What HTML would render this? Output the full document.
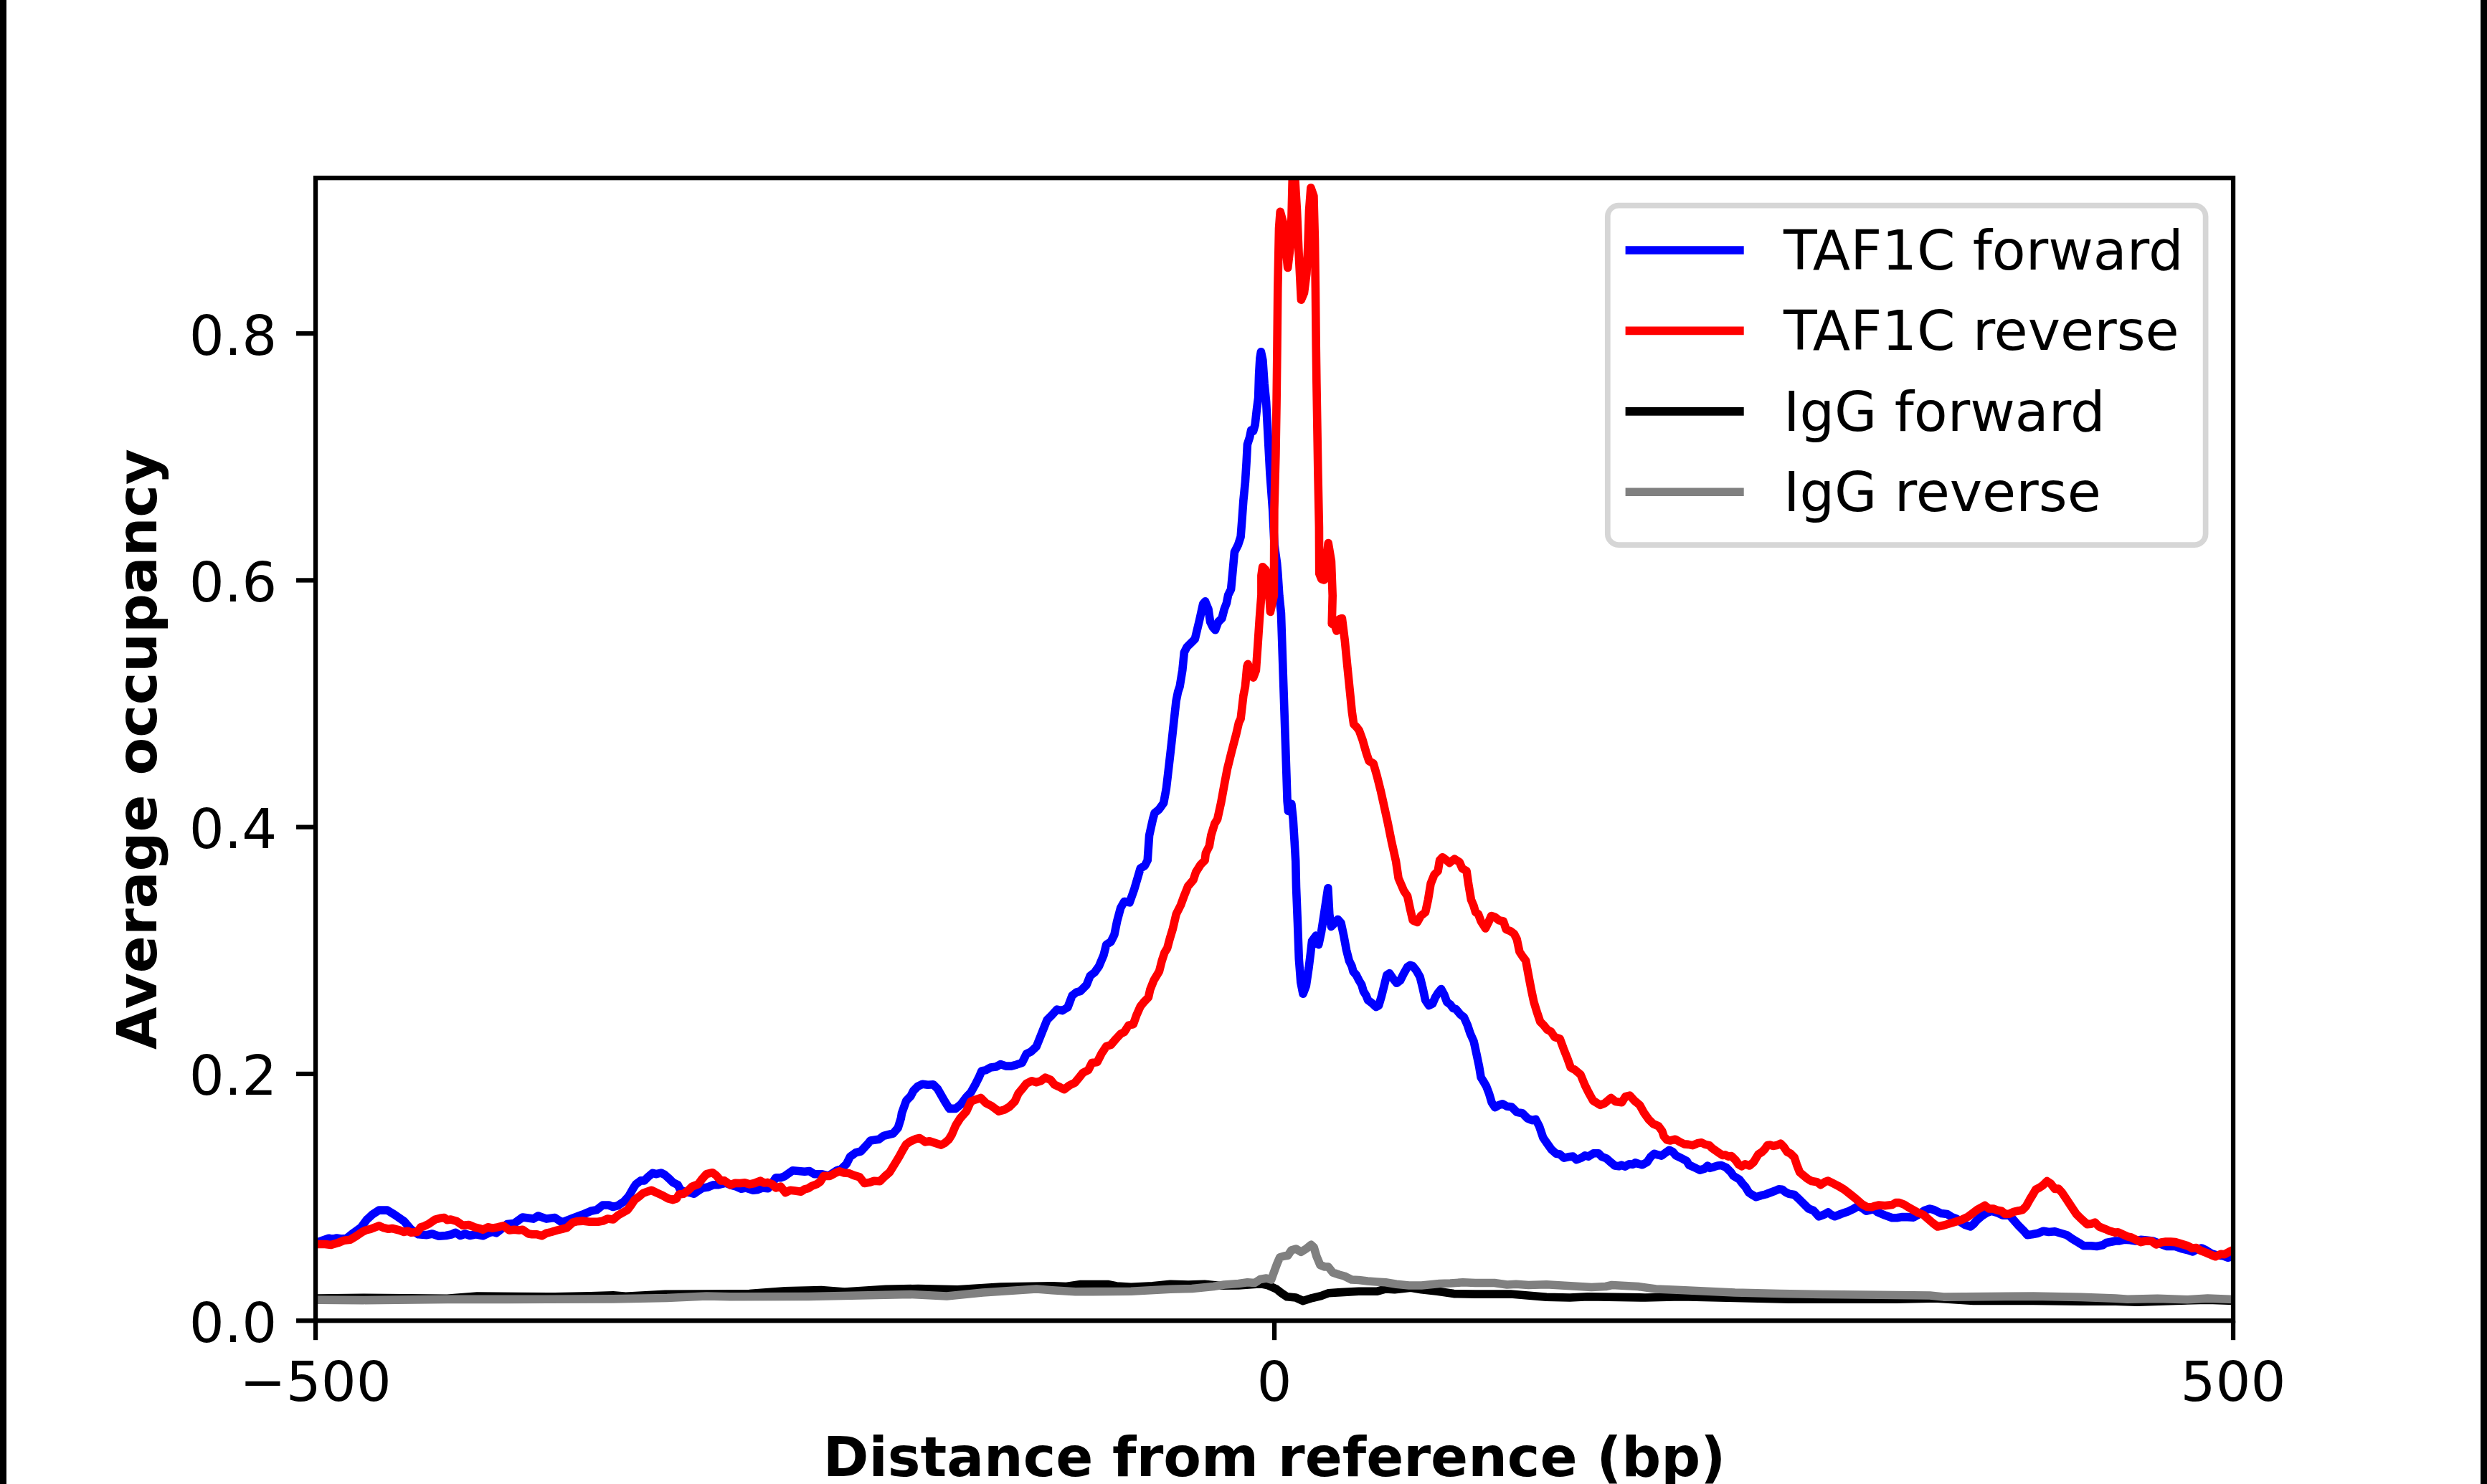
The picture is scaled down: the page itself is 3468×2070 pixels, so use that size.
<!DOCTYPE html>
<html><head><meta charset="utf-8"><title>Average occupancy</title>
<style>
html,body{margin:0;padding:0;background:#fff;}
body{width:3468px;height:2070px;overflow:hidden;}
svg{display:block;position:absolute;left:0;top:0;}
text{font-family:"DejaVu Sans","Liberation Sans",sans-serif;font-size:77px;fill:#000;}
.b{font-weight:bold;font-size:76.8px;}
</style></head><body>
<svg width="3468" height="2070" viewBox="0 0 3468 2070">
<rect x="0" y="0" width="3468" height="2070" fill="#fff"/>
<rect x="0" y="0" width="9" height="2070" fill="#000"/>
<rect x="3459" y="0" width="9" height="2070" fill="#000"/>
<defs><clipPath id="ax"><rect x="440.05" y="248.20" width="2674.00" height="1594.00"/></clipPath></defs>

<g clip-path="url(#ax)" fill="none" stroke-width="11.6" stroke-linejoin="round" stroke-linecap="square">
<path stroke="#0000ff" d="M440.0 1732.7 L443.3 1732.7 L450.0 1730.2 L458.5 1727.2 L463.5 1728.3 L469.5 1727.0 L476.0 1728.0 L482.9 1727.5 L489.6 1722.3 L503.4 1712.2 L511.2 1701.6 L519.6 1693.8 L528.4 1688.1 L540.1 1688.1 L550.1 1694.3 L563.5 1703.5 L573.5 1715.2 L583.5 1721.8 L595.2 1722.7 L602.7 1721.0 L611.9 1724.3 L621.9 1723.5 L630.2 1721.8 L635.2 1719.3 L641.9 1723.5 L648.6 1721.0 L655.3 1723.5 L663.6 1721.8 L673.6 1723.8 L681.9 1719.8 L687.0 1718.2 L692.0 1719.8 L700.3 1713.5 L707.0 1707.6 L717.0 1706.5 L728.7 1698.0 L743.7 1700.1 L750.4 1696.0 L762.0 1700.1 L773.7 1698.5 L783.7 1705.1 L788.7 1703.1 L798.8 1699.3 L812.1 1694.3 L823.8 1689.3 L832.1 1687.6 L840.5 1681.0 L848.8 1681.0 L855.0 1683.5 L861.7 1681.6 L870.0 1676.1 L876.7 1668.6 L883.4 1656.9 L886.7 1651.9 L893.4 1646.9 L898.4 1646.9 L903.4 1641.9 L910.1 1636.3 L915.1 1637.7 L921.8 1636.0 L926.8 1638.5 L933.4 1644.4 L938.4 1649.4 L945.1 1652.7 L948.5 1659.4 L955.1 1662.7 L961.8 1663.5 L967.6 1665.2 L973.5 1661.0 L980.2 1656.9 L986.8 1656.0 L995.2 1652.7 L1001.8 1652.7 L1011.9 1650.2 L1020.2 1653.5 L1026.9 1655.2 L1033.6 1658.2 L1040.2 1656.9 L1050.2 1660.2 L1056.9 1659.4 L1063.6 1656.9 L1071.1 1657.7 L1076.9 1650.2 L1081.9 1642.7 L1088.6 1642.7 L1093.6 1641.0 L1105.3 1632.7 L1113.6 1633.5 L1122.0 1634.3 L1128.7 1633.5 L1135.3 1637.7 L1145.4 1637.7 L1155.4 1640.2 L1162.0 1636.0 L1167.0 1632.7 L1173.7 1630.2 L1180.4 1623.5 L1185.4 1613.5 L1193.7 1607.6 L1200.4 1606.0 L1210.4 1595.1 L1213.8 1591.0 L1225.4 1589.3 L1232.1 1584.3 L1245.5 1581.0 L1252.1 1573.4 L1256.3 1560.1 L1257.5 1552.7 L1263.8 1535.2 L1270.0 1528.9 L1273.8 1521.4 L1280.0 1515.2 L1286.3 1512.2 L1293.8 1513.2 L1301.3 1512.7 L1307.5 1518.9 L1312.5 1527.7 L1317.5 1536.4 L1323.8 1546.4 L1332.5 1546.4 L1340.1 1540.2 L1347.6 1530.2 L1353.8 1523.9 L1360.1 1512.7 L1365.1 1502.7 L1368.8 1493.9 L1375.1 1492.6 L1381.3 1488.9 L1388.8 1488.1 L1395.1 1484.6 L1402.6 1487.1 L1410.1 1487.1 L1417.6 1485.1 L1425.1 1482.6 L1431.3 1470.1 L1437.6 1467.1 L1445.1 1460.1 L1452.6 1441.4 L1460.1 1422.6 L1466.4 1416.4 L1473.9 1408.1 L1481.4 1409.6 L1488.9 1405.1 L1495.1 1388.8 L1501.4 1383.8 L1506.4 1382.6 L1515.1 1373.8 L1520.1 1361.3 L1526.4 1356.3 L1532.6 1347.6 L1538.9 1332.6 L1542.7 1317.6 L1548.9 1313.8 L1553.9 1303.8 L1557.7 1285.0 L1562.7 1266.3 L1567.7 1257.5 L1575.2 1258.8 L1581.4 1241.3 L1590.2 1211.3 L1596.4 1207.5 L1600.2 1200.0 L1602.6 1165.2 L1607.6 1142.7 L1610.1 1133.9 L1616.3 1128.9 L1622.6 1120.1 L1626.3 1100.1 L1630.1 1067.6 L1633.8 1035.1 L1637.6 1000.1 L1640.1 977.6 L1642.6 965.1 L1645.1 957.6 L1648.8 935.1 L1651.3 910.0 L1655.1 902.5 L1661.3 896.3 L1666.3 891.3 L1672.6 865.0 L1677.6 842.5 L1680.6 838.8 L1685.1 850.0 L1687.6 867.5 L1691.3 875.0 L1694.6 878.8 L1698.8 867.5 L1703.9 862.5 L1707.1 850.0 L1710.4 841.3 L1712.6 830.0 L1716.6 821.9 L1718.9 797.7 L1721.4 770.2 L1726.4 760.2 L1730.1 748.9 L1732.1 722.6 L1733.9 697.6 L1736.4 672.6 L1738.1 645.1 L1739.4 620.1 L1742.6 610.1 L1744.6 600.1 L1747.6 601.3 L1750.1 592.6 L1752.6 570.1 L1754.6 555.0 L1755.6 522.5 L1756.9 500.0 L1758.4 490.8 L1760.9 502.5 L1763.1 535.0 L1765.6 560.1 L1766.9 585.1 L1768.9 622.6 L1770.9 660.1 L1774.6 710.1 L1777.1 760.2 L1780.6 785.2 L1781.9 800.2 L1783.9 830.9 L1786.4 855.0 L1788.9 930.1 L1791.4 1005.1 L1793.9 1080.1 L1795.1 1117.6 L1796.4 1131.4 L1800.9 1121.4 L1803.2 1142.7 L1805.2 1175.2 L1806.7 1200.9 L1807.5 1237.5 L1809.5 1287.5 L1811.3 1337.6 L1813.8 1370.1 L1817.0 1386.3 L1821.3 1375.1 L1825.0 1350.1 L1827.5 1330.1 L1829.5 1312.6 L1835.0 1305.1 L1838.8 1317.6 L1842.5 1300.1 L1847.5 1267.5 L1851.8 1238.8 L1853.8 1275.0 L1856.3 1292.5 L1861.3 1287.5 L1865.5 1282.5 L1870.0 1287.5 L1873.8 1305.1 L1877.5 1325.1 L1881.3 1340.1 L1885.0 1347.6 L1887.0 1355.1 L1891.3 1360.1 L1895.1 1367.6 L1898.8 1373.8 L1901.3 1382.6 L1905.1 1388.8 L1907.6 1395.1 L1912.6 1398.8 L1918.8 1404.6 L1922.6 1402.6 L1926.3 1390.1 L1930.1 1375.1 L1933.8 1360.1 L1937.6 1357.6 L1942.6 1365.1 L1947.6 1371.3 L1952.6 1367.6 L1957.6 1357.6 L1962.6 1348.8 L1966.3 1346.3 L1970.1 1347.6 L1975.1 1353.8 L1980.1 1362.6 L1983.8 1377.6 L1987.6 1395.1 L1992.6 1402.6 L1997.6 1400.1 L2001.4 1391.3 L2005.1 1385.1 L2009.6 1379.6 L2013.9 1387.6 L2017.6 1397.6 L2022.6 1401.4 L2026.4 1406.4 L2030.1 1407.6 L2036.4 1415.1 L2041.4 1418.9 L2046.4 1430.1 L2050.1 1441.4 L2055.1 1452.6 L2058.9 1470.1 L2062.6 1487.6 L2065.1 1502.7 L2068.9 1508.9 L2072.6 1515.2 L2076.4 1525.2 L2080.1 1537.7 L2084.6 1544.7 L2090.2 1541.4 L2095.2 1539.7 L2101.4 1543.2 L2107.7 1543.9 L2115.2 1551.4 L2122.7 1552.7 L2130.2 1560.2 L2136.4 1562.7 L2141.4 1561.4 L2146.4 1570.9 L2151.7 1586.7 L2157.5 1595.1 L2163.4 1603.4 L2170.0 1609.3 L2175.1 1610.1 L2180.9 1615.1 L2186.7 1613.8 L2193.4 1613.1 L2198.4 1617.6 L2205.1 1615.1 L2210.1 1611.8 L2215.1 1613.1 L2221.8 1608.8 L2229.3 1608.8 L2233.5 1613.4 L2240.1 1615.9 L2246.8 1621.8 L2251.8 1626.0 L2257.6 1626.8 L2261.0 1625.1 L2266.0 1627.1 L2271.8 1623.8 L2276.8 1624.3 L2280.2 1621.8 L2285.2 1623.5 L2290.2 1624.8 L2296.9 1621.0 L2301.9 1613.4 L2306.9 1609.3 L2311.9 1610.9 L2316.9 1612.1 L2321.9 1608.4 L2327.7 1604.3 L2332.7 1606.8 L2336.9 1611.8 L2345.3 1615.9 L2351.9 1619.3 L2355.3 1625.1 L2361.1 1627.6 L2370.3 1632.1 L2377.0 1630.1 L2381.1 1626.0 L2384.5 1629.3 L2390.3 1627.6 L2395.3 1626.0 L2400.3 1625.5 L2407.0 1628.5 L2413.7 1635.1 L2417.0 1640.1 L2425.3 1645.1 L2430.4 1651.8 L2433.7 1655.2 L2438.7 1663.5 L2443.7 1666.8 L2448.7 1669.8 L2455.4 1667.7 L2462.1 1666.0 L2468.7 1663.5 L2475.4 1661.0 L2480.4 1658.8 L2485.4 1659.3 L2489.6 1662.7 L2494.6 1665.2 L2502.1 1666.5 L2508.8 1672.7 L2515.4 1679.4 L2522.1 1686.0 L2528.8 1688.5 L2536.3 1696.9 L2545.0 1693.5 L2549.2 1691.0 L2553.4 1694.3 L2558.4 1696.8 L2566.7 1693.5 L2576.7 1690.1 L2585.1 1686.0 L2591.7 1681.8 L2596.7 1685.1 L2602.6 1689.3 L2608.4 1687.6 L2613.4 1686.8 L2618.4 1691.0 L2628.4 1695.1 L2638.5 1698.8 L2645.1 1698.8 L2651.8 1697.6 L2660.1 1697.6 L2668.5 1698.1 L2673.5 1695.1 L2678.5 1691.8 L2683.5 1688.5 L2691.0 1686.0 L2696.9 1687.6 L2706.9 1692.6 L2715.2 1693.5 L2721.9 1697.6 L2728.6 1700.1 L2733.6 1704.3 L2740.2 1708.5 L2747.7 1711.0 L2751.9 1707.6 L2756.9 1701.8 L2763.6 1696.0 L2770.3 1691.8 L2776.9 1689.3 L2785.3 1691.8 L2792.8 1695.1 L2802.0 1695.1 L2808.7 1702.6 L2815.3 1710.2 L2822.0 1716.8 L2827.0 1722.7 L2833.7 1721.8 L2842.0 1720.2 L2849.5 1717.2 L2857.0 1718.5 L2865.4 1717.7 L2873.7 1720.2 L2882.1 1722.7 L2890.4 1728.5 L2898.8 1733.5 L2905.4 1737.7 L2915.4 1737.7 L2923.8 1738.5 L2932.1 1736.8 L2937.1 1733.5 L2943.8 1732.2 L2950.0 1731.0 L2955.1 1731.0 L2961.7 1729.3 L2970.1 1729.8 L2978.4 1731.0 L2985.1 1729.3 L2993.4 1730.1 L3001.8 1731.0 L3008.5 1733.5 L3015.1 1736.0 L3021.8 1738.5 L3031.8 1738.1 L3041.8 1741.5 L3050.2 1743.5 L3057.7 1746.0 L3063.5 1742.6 L3070.2 1741.0 L3076.9 1744.3 L3083.5 1748.5 L3091.9 1751.0 L3100.2 1751.8 L3106.9 1754.3 L3114.1 1751.8"/>
<path stroke="#ff0000" d="M440.0 1735.5 L443.3 1735.5 L453.3 1735.5 L461.7 1736.5 L471.7 1733.5 L480.0 1730.2 L488.4 1729.3 L496.7 1724.3 L505.1 1718.5 L510.1 1716.0 L516.8 1714.3 L528.4 1709.8 L535.1 1712.7 L541.8 1714.3 L546.8 1713.5 L556.8 1716.0 L563.5 1718.5 L568.5 1717.2 L573.5 1719.3 L581.8 1718.5 L586.8 1711.8 L591.8 1710.2 L598.5 1706.8 L606.9 1701.0 L613.5 1699.3 L619.4 1698.5 L623.5 1701.8 L628.6 1701.0 L636.9 1703.5 L645.2 1709.3 L653.6 1708.5 L661.9 1711.8 L668.6 1713.5 L673.6 1715.2 L680.3 1711.8 L687.0 1713.2 L693.6 1711.8 L702.0 1709.8 L710.3 1716.0 L717.0 1715.2 L723.7 1716.0 L728.7 1715.2 L737.0 1721.0 L742.0 1721.8 L748.7 1721.8 L755.4 1723.8 L762.0 1720.2 L768.7 1718.5 L777.1 1716.0 L783.7 1714.3 L790.4 1712.7 L798.8 1705.1 L803.8 1703.8 L812.1 1703.1 L822.1 1704.3 L833.8 1704.3 L840.5 1703.1 L847.1 1700.1 L855.0 1701.0 L861.7 1695.3 L875.0 1687.7 L880.0 1681.1 L885.0 1673.6 L891.7 1668.6 L896.7 1664.4 L903.4 1661.9 L908.4 1660.2 L915.1 1663.5 L923.4 1667.2 L931.8 1671.9 L938.4 1673.6 L943.4 1671.9 L946.8 1666.1 L953.5 1665.2 L960.1 1660.2 L965.1 1655.2 L973.5 1651.9 L978.5 1645.2 L985.2 1637.7 L993.5 1635.7 L998.5 1639.4 L1005.2 1646.9 L1010.2 1646.9 L1018.5 1652.7 L1025.2 1650.2 L1031.9 1650.5 L1038.6 1649.9 L1045.2 1651.9 L1051.9 1650.5 L1060.3 1647.2 L1065.3 1649.9 L1070.3 1649.4 L1076.9 1651.9 L1081.9 1656.9 L1088.6 1655.2 L1095.3 1663.5 L1102.0 1660.2 L1108.6 1661.0 L1117.0 1662.2 L1122.0 1658.9 L1127.0 1657.7 L1132.0 1654.4 L1138.7 1651.9 L1143.7 1648.5 L1148.7 1640.2 L1157.0 1640.5 L1163.7 1636.8 L1170.4 1633.8 L1177.1 1636.0 L1183.7 1636.5 L1190.4 1639.4 L1198.7 1641.9 L1205.4 1650.5 L1212.1 1649.4 L1218.8 1647.2 L1227.1 1647.7 L1233.8 1641.0 L1240.5 1635.2 L1248.8 1621.8 L1253.8 1613.5 L1258.8 1604.3 L1263.6 1596.2 L1269.4 1592.1 L1276.9 1588.7 L1282.4 1587.5 L1290.3 1592.9 L1296.2 1591.7 L1303.7 1594.2 L1312.1 1597.1 L1317.1 1594.6 L1322.9 1589.6 L1327.1 1582.9 L1332.5 1570.2 L1338.8 1560.2 L1347.6 1550.2 L1353.8 1536.4 L1360.1 1533.9 L1367.6 1531.4 L1375.1 1538.9 L1382.6 1542.7 L1392.6 1550.2 L1400.1 1548.2 L1407.6 1543.9 L1415.1 1536.4 L1420.1 1525.2 L1426.3 1517.7 L1431.3 1511.4 L1438.8 1507.7 L1445.1 1509.7 L1451.4 1507.7 L1457.6 1503.2 L1465.1 1506.4 L1470.1 1512.7 L1476.4 1515.7 L1483.9 1519.7 L1491.4 1513.9 L1498.9 1510.2 L1505.1 1502.7 L1510.1 1496.4 L1517.6 1492.6 L1522.6 1482.6 L1530.1 1481.4 L1536.4 1468.9 L1542.7 1459.6 L1548.9 1457.6 L1556.4 1448.9 L1562.7 1442.1 L1567.7 1439.6 L1573.9 1430.1 L1580.2 1428.9 L1585.2 1415.1 L1590.2 1403.9 L1595.2 1397.6 L1601.4 1391.3 L1603.9 1380.1 L1608.9 1367.6 L1616.4 1355.1 L1620.2 1340.1 L1623.9 1328.8 L1627.7 1322.6 L1631.4 1308.8 L1635.2 1296.3 L1640.2 1275.0 L1646.5 1262.5 L1651.5 1248.8 L1656.5 1236.3 L1664.0 1227.5 L1667.7 1216.3 L1674.0 1206.3 L1680.2 1200.0 L1681.3 1190.2 L1686.3 1180.2 L1688.8 1165.2 L1693.8 1148.9 L1697.6 1142.7 L1702.6 1120.1 L1707.6 1092.6 L1711.4 1072.6 L1717.6 1047.6 L1723.9 1023.8 L1727.6 1007.6 L1730.1 1002.6 L1733.9 970.1 L1736.4 957.6 L1738.9 930.1 L1740.1 926.3 L1743.9 937.6 L1747.6 945.1 L1751.4 935.1 L1753.9 900.0 L1756.4 862.5 L1758.9 830.0 L1758.9 802.7 L1760.6 790.7 L1765.1 795.2 L1768.9 815.2 L1771.4 853.4 L1776.4 830.9 L1776.9 710.1 L1778.9 635.1 L1780.1 560.1 L1781.0 482.0 L1781.8 401.9 L1783.5 318.4 L1785.2 295.4 L1789.3 310.1 L1792.7 343.5 L1795.7 373.5 L1799.3 343.5 L1801.0 301.7 L1802.2 251.7 L1803.5 218.3 L1806.0 251.7 L1808.5 293.4 L1811.0 351.8 L1814.4 418.2 L1818.5 408.5 L1821.9 381.8 L1823.9 343.5 L1825.5 293.4 L1827.9 262.0 L1831.9 273.4 L1833.5 335.1 L1834.4 401.9 L1835.2 482.0 L1835.9 535.0 L1837.9 660.1 L1839.4 735.1 L1839.7 800.2 L1842.7 807.7 L1846.4 808.9 L1852.2 757.6 L1856.4 782.7 L1858.2 830.9 L1857.2 870.0 L1861.4 872.5 L1863.9 880.0 L1867.7 863.8 L1871.4 862.5 L1875.2 892.5 L1878.9 930.1 L1882.7 967.6 L1885.2 992.6 L1887.7 1010.1 L1891.4 1013.8 L1895.2 1018.8 L1900.2 1032.6 L1905.2 1050.1 L1909.0 1061.4 L1915.2 1065.1 L1920.2 1082.6 L1925.2 1102.6 L1930.2 1125.1 L1935.2 1147.7 L1940.2 1172.7 L1946.5 1200.9 L1950.1 1225.0 L1957.6 1242.5 L1962.6 1250.0 L1966.3 1267.5 L1970.1 1283.8 L1976.3 1286.3 L1981.3 1277.5 L1987.6 1272.5 L1991.4 1255.0 L1995.1 1232.5 L2000.1 1220.0 L2005.1 1215.0 L2007.6 1200.0 L2011.5 1195.7 L2015.8 1198.9 L2021.3 1203.7 L2024.8 1200.7 L2028.3 1198.2 L2035.3 1202.7 L2038.9 1211.3 L2045.1 1215.0 L2047.6 1232.5 L2051.4 1255.0 L2055.1 1263.8 L2057.6 1272.5 L2061.4 1275.0 L2065.1 1285.0 L2071.4 1295.0 L2075.1 1287.5 L2079.6 1277.5 L2085.1 1279.5 L2090.2 1283.8 L2096.4 1285.0 L2100.2 1296.3 L2106.4 1298.8 L2111.4 1302.6 L2115.2 1310.1 L2118.9 1327.6 L2123.9 1335.1 L2127.7 1340.1 L2131.4 1360.1 L2135.2 1380.1 L2138.9 1397.6 L2142.7 1410.1 L2147.7 1425.1 L2152.7 1430.1 L2157.7 1436.4 L2162.7 1438.9 L2167.7 1446.4 L2175.2 1448.9 L2180.2 1462.6 L2185.2 1475.1 L2190.2 1488.9 L2196.5 1492.6 L2204.0 1498.9 L2210.2 1513.9 L2215.2 1523.9 L2221.5 1535.2 L2231.5 1541.4 L2237.7 1538.9 L2246.5 1531.4 L2252.7 1536.4 L2261.5 1537.7 L2266.5 1529.7 L2272.7 1528.2 L2279.0 1535.2 L2286.5 1541.4 L2292.8 1552.7 L2299.0 1561.4 L2305.3 1567.7 L2312.8 1570.9 L2317.7 1577.6 L2320.2 1585.1 L2324.4 1590.1 L2329.4 1590.9 L2336.1 1589.2 L2341.9 1592.6 L2348.6 1595.9 L2354.4 1596.4 L2360.3 1597.6 L2366.9 1594.8 L2372.8 1593.8 L2377.8 1596.4 L2383.6 1597.6 L2387.8 1601.8 L2396.1 1607.6 L2402.0 1611.4 L2405.3 1610.9 L2410.3 1613.1 L2414.5 1612.6 L2420.3 1618.4 L2424.5 1624.3 L2428.7 1626.8 L2433.7 1623.8 L2439.5 1626.0 L2445.4 1621.0 L2452.0 1610.1 L2457.0 1606.8 L2461.2 1602.6 L2464.6 1597.6 L2468.7 1597.1 L2472.1 1598.4 L2477.9 1597.6 L2482.9 1595.1 L2487.1 1599.3 L2492.1 1606.8 L2497.1 1609.3 L2502.1 1614.3 L2505.4 1624.3 L2509.6 1635.1 L2515.4 1640.1 L2520.5 1644.3 L2526.3 1647.6 L2533.8 1648.8 L2538.8 1652.7 L2545.0 1648.5 L2549.2 1647.1 L2556.7 1650.9 L2563.4 1654.3 L2571.7 1659.3 L2580.1 1665.9 L2588.4 1672.6 L2596.7 1679.8 L2603.4 1683.5 L2610.1 1683.8 L2615.1 1682.1 L2620.1 1681.0 L2628.4 1681.8 L2638.5 1680.6 L2643.5 1677.6 L2648.5 1677.6 L2655.1 1680.1 L2661.8 1684.3 L2668.5 1688.1 L2675.2 1691.8 L2681.8 1694.3 L2688.5 1700.1 L2695.2 1706.0 L2701.9 1711.0 L2710.2 1709.3 L2718.5 1706.8 L2726.9 1704.3 L2735.2 1701.5 L2743.6 1697.6 L2750.3 1692.6 L2756.9 1687.6 L2762.8 1684.3 L2767.8 1681.5 L2773.6 1686.0 L2779.5 1686.0 L2785.3 1688.1 L2791.1 1689.3 L2796.1 1693.5 L2802.0 1693.1 L2808.7 1690.1 L2815.3 1688.8 L2820.3 1687.6 L2825.3 1682.6 L2830.3 1673.4 L2835.4 1665.1 L2838.7 1659.3 L2843.7 1656.8 L2848.7 1653.4 L2854.5 1647.6 L2859.5 1650.9 L2865.4 1658.4 L2870.4 1658.1 L2875.4 1663.4 L2882.1 1673.4 L2888.7 1683.5 L2895.4 1693.5 L2902.1 1700.1 L2910.4 1707.6 L2916.3 1707.1 L2921.3 1705.1 L2927.1 1711.0 L2935.5 1714.3 L2942.1 1717.2 L2950.0 1719.3 L2953.4 1718.8 L2961.7 1722.6 L2966.7 1724.8 L2971.8 1726.0 L2978.4 1729.3 L2985.1 1732.6 L2991.8 1731.0 L3000.1 1731.3 L3006.8 1736.0 L3013.5 1733.0 L3020.1 1732.1 L3026.8 1732.1 L3033.5 1732.6 L3041.8 1735.1 L3050.2 1737.6 L3056.8 1741.0 L3062.7 1740.5 L3068.5 1744.3 L3076.9 1747.6 L3083.5 1750.5 L3089.4 1752.7 L3096.9 1749.3 L3101.9 1749.8 L3108.6 1746.0 L3114.1 1743.5"/>
<path stroke="#000000" d="M440.0 1811.1 L443.3 1811.1 L506.7 1810.3 L623.5 1811.4 L665.3 1808.1 L723.7 1808.6 L773.7 1808.9 L823.8 1807.8 L855.0 1806.9 L872.5 1808.3 L927.5 1805.3 L1045.1 1804.5 L1095.1 1800.8 L1145.2 1799.5 L1177.7 1802.0 L1235.2 1798.3 L1280.2 1797.5 L1335.2 1798.8 L1395.3 1795.0 L1467.1 1793.8 L1487.0 1794.5 L1507.0 1791.5 L1544.5 1791.5 L1557.1 1794.0 L1577.1 1795.3 L1607.1 1793.8 L1632.1 1791.3 L1657.1 1792.0 L1679.6 1791.3 L1699.6 1793.3 L1727.1 1793.0 L1752.1 1791.3 L1760.9 1791.3 L1767.2 1792.5 L1779.7 1798.0 L1787.2 1803.8 L1794.7 1808.8 L1807.2 1810.1 L1817.2 1814.6 L1829.7 1810.6 L1842.2 1807.6 L1852.2 1803.8 L1869.7 1802.6 L1894.7 1801.3 L1919.7 1801.3 L1932.2 1798.0 L1944.7 1798.8 L1967.3 1796.3 L1982.3 1798.8 L2004.8 1801.3 L2027.3 1804.6 L2057.3 1805.1 L2079.1 1805.1 L2106.5 1805.0 L2156.5 1809.3 L2189.1 1810.0 L2214.1 1808.8 L2294.1 1810.0 L2344.1 1808.8 L2419.2 1810.5 L2494.2 1812.3 L2569.3 1812.3 L2644.3 1812.3 L2691.1 1811.3 L2701.9 1811.1 L2751.9 1814.4 L2835.4 1814.4 L2902.1 1815.3 L2950.0 1815.3 L2980.1 1816.1 L3033.5 1814.4 L3078.5 1813.1 L3114.1 1814.4"/>
<path stroke="#808080" d="M440.0 1813.1 L443.3 1813.1 L506.7 1813.6 L623.5 1812.4 L707.0 1812.4 L855.0 1811.9 L930.0 1810.5 L985.1 1808.0 L1020.1 1808.8 L1127.6 1808.5 L1270.2 1805.5 L1320.2 1808.0 L1370.3 1803.0 L1445.3 1798.0 L1467.1 1799.8 L1499.5 1801.8 L1577.1 1801.3 L1632.1 1798.3 L1662.1 1797.5 L1692.1 1794.5 L1707.1 1792.0 L1727.1 1790.5 L1739.6 1788.8 L1749.6 1789.5 L1757.2 1784.5 L1765.9 1783.0 L1772.7 1785.0 L1777.2 1772.5 L1780.9 1762.5 L1784.7 1753.8 L1790.9 1752.0 L1795.9 1751.3 L1800.9 1743.8 L1807.2 1742.0 L1814.2 1746.3 L1822.2 1741.3 L1828.4 1736.3 L1832.2 1740.0 L1835.9 1752.5 L1840.9 1764.5 L1847.2 1767.0 L1852.2 1767.0 L1858.5 1775.0 L1867.2 1778.0 L1874.7 1780.0 L1884.7 1785.0 L1894.7 1785.5 L1907.2 1787.0 L1919.7 1788.0 L1932.2 1788.8 L1947.2 1791.3 L1964.8 1793.0 L1982.3 1793.0 L2007.3 1790.5 L2022.3 1790.0 L2039.8 1788.8 L2057.3 1789.5 L2079.1 1789.5 L2084.0 1789.5 L2101.5 1792.0 L2114.0 1791.3 L2131.5 1792.5 L2156.5 1791.8 L2181.6 1793.3 L2219.1 1795.5 L2239.1 1794.5 L2247.8 1792.5 L2284.1 1794.5 L2309.1 1798.0 L2344.1 1799.5 L2419.2 1803.0 L2481.7 1804.5 L2544.2 1805.5 L2619.3 1806.3 L2691.1 1807.0 L2710.2 1809.1 L2768.6 1808.6 L2835.4 1808.1 L2902.1 1809.4 L2950.0 1811.1 L2966.7 1812.2 L3008.5 1811.4 L3050.2 1812.7 L3078.5 1811.1 L3114.1 1812.4"/>
</g>
<g stroke="#000" stroke-width="6.3" fill="none">
<line x1="413.05" y1="1842.20" x2="440.05" y2="1842.20"/>
<line x1="413.05" y1="1497.95" x2="440.05" y2="1497.95"/>
<line x1="413.05" y1="1153.70" x2="440.05" y2="1153.70"/>
<line x1="413.05" y1="809.45" x2="440.05" y2="809.45"/>
<line x1="413.05" y1="465.20" x2="440.05" y2="465.20"/>
<line x1="440.05" y1="1842.20" x2="440.05" y2="1869.20"/>
<line x1="1777.05" y1="1842.20" x2="1777.05" y2="1869.20"/>
<line x1="3114.05" y1="1842.20" x2="3114.05" y2="1869.20"/>
<rect x="440.05" y="248.20" width="2674.00" height="1594.00" stroke-linejoin="miter"/>
</g>
<text x="386.3" y="1871.6" text-anchor="end">0.0</text>
<text x="386.3" y="1527.4" text-anchor="end">0.2</text>
<text x="386.3" y="1183.1" text-anchor="end">0.4</text>
<text x="386.3" y="838.9" text-anchor="end">0.6</text>
<text x="386.3" y="494.6" text-anchor="end">0.8</text>
<text x="440.1" y="1954.4" text-anchor="middle">−500</text>
<text x="1777.0" y="1954.4" text-anchor="middle">0</text>
<text x="3114.1" y="1954.4" text-anchor="middle">500</text>
<text class="b" x="1777" y="2059.4" text-anchor="middle">Distance from reference (bp)</text>
<text class="b" transform="translate(217.5 1045) rotate(-90)" text-anchor="middle">Average occupancy</text>
<rect x="2241.8" y="286.6" width="833.8" height="473.5" rx="15.4" ry="15.4" fill="#fff" fill-opacity="0.8" stroke="#ccc" stroke-opacity="0.8" stroke-width="7.7"/>
<line x1="2272.4" y1="349.0" x2="2425.9" y2="349.0" stroke="#0000ff" stroke-width="11.6" stroke-linecap="square"/>
<text x="2486.9" y="375.8" style="font-size:76.62px">TAF1C forward</text>
<line x1="2272.4" y1="461.4" x2="2425.9" y2="461.4" stroke="#ff0000" stroke-width="11.6" stroke-linecap="square"/>
<text x="2486.9" y="488.2" style="font-size:76.62px">TAF1C reverse</text>
<line x1="2272.4" y1="573.9" x2="2425.9" y2="573.9" stroke="#000000" stroke-width="11.6" stroke-linecap="square"/>
<text x="2486.9" y="600.7" style="font-size:76.62px">IgG forward</text>
<line x1="2272.4" y1="686.3" x2="2425.9" y2="686.3" stroke="#808080" stroke-width="11.6" stroke-linecap="square"/>
<text x="2486.9" y="713.2" style="font-size:76.62px">IgG reverse</text>
</svg></body></html>
